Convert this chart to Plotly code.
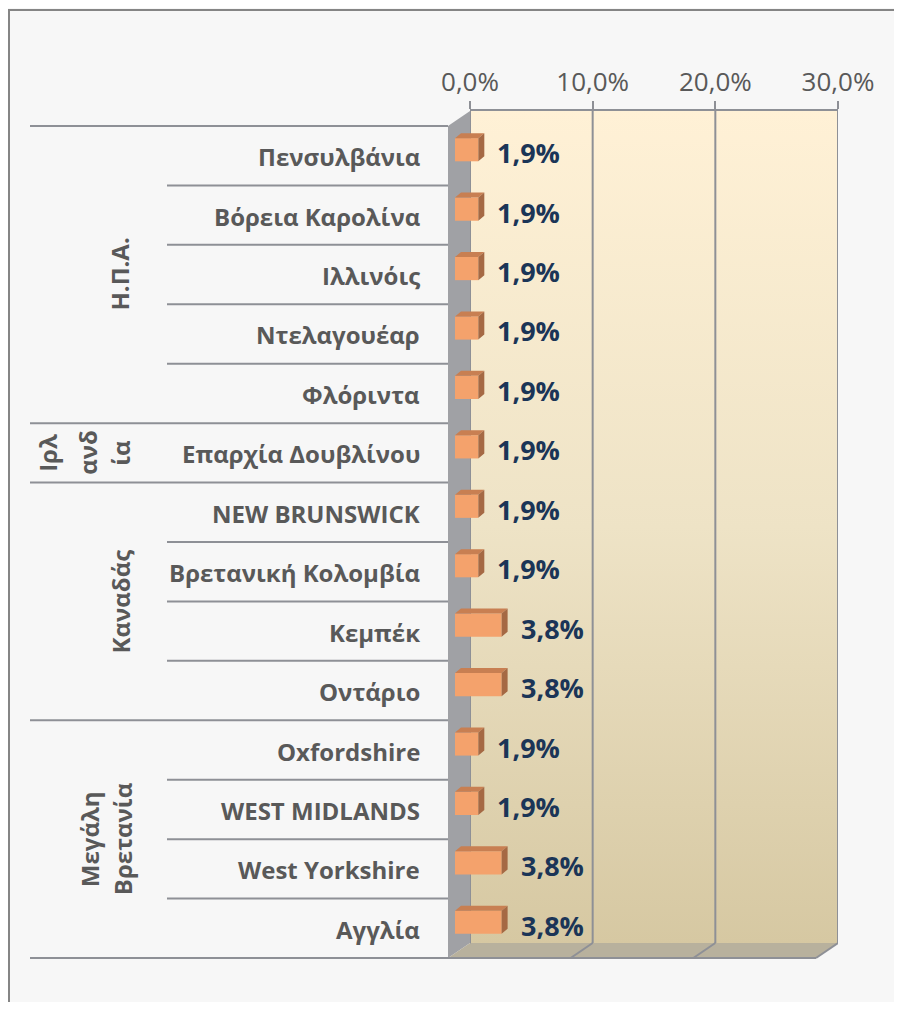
import plotly.graph_objects as go

# ---------------- data ----------------
categories = ["Πενσυλβάνια", "Βόρεια Καρολίνα", "Ιλλινόις", "Ντελαγουέαρ", "Φλόριντα",
              "Επαρχία Δουβλίνου",
              "NEW BRUNSWICK", "Βρετανική Κολομβία", "Κεμπέκ", "Οντάριο",
              "Oxfordshire", "WEST MIDLANDS", "West Yorkshire", "Αγγλία"]
values = [1.9, 1.9, 1.9, 1.9, 1.9, 1.9, 1.9, 1.9, 3.8, 3.8, 1.9, 1.9, 3.8, 3.8]
value_labels = ["1,9%", "1,9%", "1,9%", "1,9%", "1,9%", "1,9%", "1,9%", "1,9%",
                "3,8%", "3,8%", "1,9%", "1,9%", "3,8%", "3,8%"]
# groups: (label lines, first index, last index)
groups = [(["Η.Π.Α."], 0, 4), (["Ιρλ", "ανδ", "ία"], 5, 5),
          (["Καναδάς"], 6, 9), (["Μεγάλη", "Βρετανία"], 10, 13)]
tick_vals = [0, 10, 20, 30]
tick_text = ["0,0%", "10,0%", "20,0%", "30,0%"]

WIN_W, WIN_H = 902, 1010
OFF = 8  # page body margin: figure is placed 8px from the window's corner
W, H = WIN_W - 2 * OFF, WIN_H - 2 * OFF   # fit inside the window (no scrollbars)
def px(x): return (x - OFF) / W
def py(y): return 1 - (y - OFF) / H

n = len(categories)
idx = list(range(n))

# geometry (window pixels)
FRONT_L, FRONT_T, FRONT_B = 448, 126, 958
BACK_L, BACK_R, BACK_T, BACK_B = 470, 838, 111, 943
PLOT_W = BACK_R - BACK_L
BAR_DX, BAR_DY = 7, 6          # bar front plane offset from front plane
DEPTH_X, DEPTH_Y = 6, 5        # bar depth
row_h = (FRONT_B - FRONT_T) / n
bar_w = 0.39

GRID = "#8E9096"
fig = go.Figure()

# ---- back wall (subplot xy) ----
fig.add_trace(go.Scatter(x=[0, 30, 30, 0, 0], y=[0, 0, 1, 1, 0], mode="lines",
                         fill="toself", line=dict(width=0),
                         fillgradient=dict(type="vertical",
                                           colorscale=[[0, "#D6C8A2"], [0.5, "#EEE3C6"], [1, "#FFF1D6"]]),
                         hoverinfo="skip", showlegend=False, xaxis="x", yaxis="y"))
gx, gy = [], []
for v in tick_vals:
    gx += [v, v, None]
    gy += [0, 1, None]
fig.add_trace(go.Scatter(x=gx, y=gy, mode="lines", line=dict(color=GRID, width=2),
                         hoverinfo="skip", showlegend=False, xaxis="x", yaxis="y"))

# ---- pixel overlay (subplot x2y2): walls, floor, separators, border ----
fig.add_trace(go.Scatter(x=[FRONT_L, BACK_L, BACK_L, FRONT_L, FRONT_L],
                         y=[FRONT_T, BACK_T, BACK_B, FRONT_B, FRONT_T],
                         mode="lines", fill="toself", fillcolor="#A0A1A5",
                         line=dict(width=0), hoverinfo="skip", showlegend=False,
                         xaxis="x2", yaxis="y2"))
fig.add_trace(go.Scatter(x=[FRONT_L, BACK_L, BACK_R, BACK_R - (BACK_L - FRONT_L), FRONT_L],
                         y=[FRONT_B, BACK_B, BACK_B, FRONT_B, FRONT_B],
                         mode="lines", fill="toself", fillcolor="#B8B19D",
                         line=dict(width=0), hoverinfo="skip", showlegend=False,
                         xaxis="x2", yaxis="y2"))
group_bounds = set()
for _, a, b in groups:
    group_bounds.add(a)
    group_bounds.add(b + 1)
sx, sy = [], []
for k in range(n + 1):
    yk = FRONT_T + k * row_h
    x0 = 30 if k in group_bounds else 167
    sx += [x0, FRONT_L, None]
    sy += [yk, yk, None]
# floor front edge
sx += [FRONT_L, BACK_R - (BACK_L - FRONT_L), None]
sy += [FRONT_B, FRONT_B, None]
fig.add_trace(go.Scatter(x=sx, y=sy, mode="lines", line=dict(color=GRID, width=2),
                         hoverinfo="skip", showlegend=False, xaxis="x2", yaxis="y2"))
fig.add_trace(go.Scatter(x=[9, 9, 910], y=[1020, 10, 10], mode="lines",
                         line=dict(color="#858585", width=2),
                         hoverinfo="skip", showlegend=False, xaxis="x2", yaxis="y2"))

# ---- bars (subplot x3y3) ----
dxd = DEPTH_X * 30 / PLOT_W
dyd = DEPTH_Y / row_h
tx, ty, rx, ry = [], [], [], []
for i, v in zip(idx, values):
    t, b = i - bar_w / 2, i + bar_w / 2
    tx += [0, v, v + dxd, dxd, 0, None]
    ty += [t, t, t - dyd, t - dyd, t, None]
    rx += [v, v + dxd, v + dxd, v, v, None]
    ry += [t, t - dyd, b - dyd, b, t, None]
fig.add_trace(go.Scatter(x=tx, y=ty, mode="lines", fill="toself", fillcolor="#C87F52",
                         line=dict(width=0), hoverinfo="skip", showlegend=False,
                         xaxis="x3", yaxis="y3"))
fig.add_trace(go.Scatter(x=rx, y=ry, mode="lines", fill="toself", fillcolor="#A56944",
                         line=dict(width=0), hoverinfo="skip", showlegend=False,
                         xaxis="x3", yaxis="y3"))
fig.add_trace(go.Bar(x=values, y=idx, orientation="h", width=bar_w,
                     marker=dict(color="#F4A26C", line=dict(width=0)),
                     hoverinfo="skip", showlegend=False, xaxis="x3", yaxis="y3"))

# floor grid lines (back plane -> front plane)
shapes = []
for v in tick_vals:
    shapes.append(dict(type="line", xref="x", xsizemode="pixel", xanchor=v,
                       x0=0, x1=-(BACK_L - FRONT_L), yref="paper",
                       y0=py(BACK_B), y1=py(FRONT_B),
                       line=dict(color=GRID, width=2), layer="above"))

annotations = []
LABEL_FONT = "Open Sans"
for i, c in enumerate(categories):
    annotations.append(dict(x=px(422), xref="paper", xanchor="right",
                            y=i, yref="y3", yanchor="middle", yshift=-BAR_DY - 1,
                            text=f"<b>{c}</b>", showarrow=False,
                            font=dict(family=LABEL_FONT, size=24, color="#595959")))
for i, (v, t) in enumerate(zip(values, value_labels)):
    annotations.append(dict(x=v, xref="x3", xanchor="left", xshift=17,
                            y=i, yref="y3", yanchor="middle", yshift=-3,
                            text=f"<b>{t}</b>", showarrow=False,
                            font=dict(family=LABEL_FONT, size=27, color="#1B3557")))
group_cols = {1: [120], 2: [89, 122], 3: [48, 88, 121]}
for lines, a, b in groups:
    cols = group_cols[len(lines)]
    for line, cx in zip(lines, cols):
        annotations.append(dict(x=px(cx), xref="paper", xanchor="center",
                                y=(a + b) / 2, yref="y3", yanchor="middle", yshift=-BAR_DY,
                                text=f"<b>{line}</b>", textangle=-90, showarrow=False,
                                font=dict(family=LABEL_FONT, size=24, color="#595959")))

bar_top = FRONT_T - BAR_DY
bar_bot = FRONT_B - BAR_DY
fig.update_layout(
    width=W, height=H, autosize=False,
    margin=dict(l=0, r=0, t=0, b=0, pad=0, autoexpand=False),
    paper_bgcolor="#F7F7F7", plot_bgcolor="rgba(0,0,0,0)",
    showlegend=False,
    xaxis=dict(domain=[px(BACK_L), px(BACK_R)], range=[0, 30], side="top",
               tickvals=tick_vals, ticktext=tick_text, ticks="outside", ticklen=8,
               tickwidth=2, tickcolor=GRID, showline=True, linecolor=GRID, linewidth=2,
               showgrid=False, zeroline=False, anchor="y", automargin=False,
               tickfont=dict(family=LABEL_FONT, size=26, color="#595959"), fixedrange=True),
    yaxis=dict(domain=[py(BACK_B), py(BACK_T)], range=[0, 1], visible=False,
               anchor="x", fixedrange=True),
    xaxis2=dict(domain=[0, 1], range=[OFF, W + OFF], visible=False, anchor="y2", fixedrange=True),
    yaxis2=dict(domain=[0, 1], range=[H + OFF, OFF], visible=False, anchor="x2", fixedrange=True),
    xaxis3=dict(domain=[px(FRONT_L + BAR_DX), px(FRONT_L + BAR_DX + PLOT_W)], range=[0, 30],
                visible=False, anchor="y3", fixedrange=True),
    yaxis3=dict(domain=[py(bar_bot), py(bar_top)], range=[n - 0.5, -0.5],
                visible=False, anchor="x3", fixedrange=True),
    shapes=shapes,
    annotations=annotations,
)

fig.write_html("out.html", config={"responsive": False, "displayModeBar": False})
